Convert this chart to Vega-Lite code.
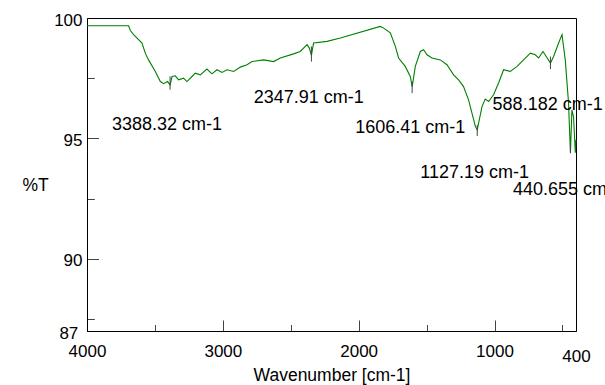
{
  "$schema": "https://vega.github.io/schema/vega-lite/v6.json",
  "width": 489,
  "height": 313,
  "autosize": {"type": "none"},
  "padding": {"left": 87, "top": 18, "right": 29, "bottom": 54},
  "background": "white",
  "config": {
    "view": {"stroke": "black", "strokeWidth": 1},
    "font": "Liberation Sans"
  },
  "encoding": {
    "x": {
      "field": "wn", "type": "quantitative",
      "scale": {"domain": [400, 4000], "reverse": true, "nice": false, "zero": false},
      "axis": {
        "title": "Wavenumber [cm-1]",
        "values": [4000, 3500, 3000, 2500, 2000, 1500, 1000, 500, 400],
        "format": "d",
        "labelExpr": "(datum.value % 1000 === 0 || datum.value === 400) ? datum.label : ''",
        "tickSize": {"condition": {"test": "datum.value % 1000 === 0", "value": -11}, "value": -6.5},
        "tickOpacity": {"condition": {"test": "datum.value === 4000 || datum.value === 400", "value": 0}, "value": 1},
        "tickColor": "#444",
        "grid": false,
        "domainColor": "black",
        "labelFont": "Liberation Sans", "labelFontSize": 17, "labelColor": "black",
        "labelPadding": 23.5, "labelFlush": false,
        "titleFont": "Liberation Sans", "titleFontSize": 17.5, "titleFontWeight": "normal", "titleColor": "black",
        "titleY": 44, "titleBaseline": "middle"
      }
    },
    "y": {
      "field": "T", "type": "quantitative",
      "scale": {"domain": [87, 100], "nice": false, "zero": false},
      "axis": {
        "title": "%T",
        "values": [100, 97.5, 95, 92.5, 90, 87.5, 87],
        "labelExpr": "(datum.value % 5 === 0 || datum.value === 87) ? datum.label : ''",
        "tickSize": {"condition": {"test": "datum.value % 5 === 0", "value": -11.5}, "value": -7.3},
        "tickOpacity": {"condition": {"test": "datum.value === 100 || datum.value === 87", "value": 0}, "value": 1},
        "tickColor": "#444",
        "grid": false,
        "domainColor": "black",
        "labelFont": "Liberation Sans", "labelFontSize": 17, "labelColor": "black",
        "labelPadding": 16.5, "labelOffset": 2, "labelFlush": false,
        "titleFont": "Liberation Sans", "titleFontSize": 17.5, "titleFontWeight": "normal", "titleColor": "black",
        "titleAngle": 0, "titleAlign": "center", "titleBaseline": "middle",
        "titleX": -52, "titleY": 167
      }
    }
  },
  "layer": [
    {
      "data": {"values": [
        {"wn": 4000, "T": 99.68}, {"wn": 3694, "T": 99.68}, {"wn": 3681, "T": 99.48}, {"wn": 3657, "T": 99.31},
        {"wn": 3595, "T": 98.96}, {"wn": 3571, "T": 98.54}, {"wn": 3547, "T": 98.26}, {"wn": 3497, "T": 97.78},
        {"wn": 3460, "T": 97.36}, {"wn": 3436, "T": 97.27}, {"wn": 3407, "T": 97.36}, {"wn": 3388, "T": 97.22},
        {"wn": 3374, "T": 97.57}, {"wn": 3350, "T": 97.6}, {"wn": 3326, "T": 97.43}, {"wn": 3289, "T": 97.5},
        {"wn": 3264, "T": 97.36}, {"wn": 3227, "T": 97.57}, {"wn": 3203, "T": 97.71}, {"wn": 3166, "T": 97.64},
        {"wn": 3117, "T": 97.88}, {"wn": 3080, "T": 97.68}, {"wn": 3043, "T": 97.85}, {"wn": 3006, "T": 97.74},
        {"wn": 2969, "T": 97.85}, {"wn": 2921, "T": 97.78}, {"wn": 2871, "T": 97.96}, {"wn": 2822, "T": 98.06},
        {"wn": 2785, "T": 98.19}, {"wn": 2700, "T": 98.26}, {"wn": 2626, "T": 98.19}, {"wn": 2577, "T": 98.34},
        {"wn": 2479, "T": 98.51}, {"wn": 2430, "T": 98.61}, {"wn": 2380, "T": 98.89}, {"wn": 2363, "T": 98.75},
        {"wn": 2348, "T": 98.45}, {"wn": 2332, "T": 98.96}, {"wn": 2233, "T": 99.03}, {"wn": 2135, "T": 99.17},
        {"wn": 1841, "T": 99.65}, {"wn": 1816, "T": 99.58}, {"wn": 1767, "T": 99.38}, {"wn": 1730, "T": 98.82},
        {"wn": 1706, "T": 98.34}, {"wn": 1657, "T": 97.99}, {"wn": 1620, "T": 97.57}, {"wn": 1606, "T": 97.15},
        {"wn": 1583, "T": 97.99}, {"wn": 1546, "T": 98.61}, {"wn": 1522, "T": 98.68}, {"wn": 1497, "T": 98.47},
        {"wn": 1460, "T": 98.34}, {"wn": 1399, "T": 98.26}, {"wn": 1350, "T": 98.06}, {"wn": 1301, "T": 97.64},
        {"wn": 1264, "T": 97.43}, {"wn": 1228, "T": 97.15}, {"wn": 1191, "T": 96.6}, {"wn": 1166, "T": 96.05},
        {"wn": 1141, "T": 95.5}, {"wn": 1127, "T": 95.35}, {"wn": 1117, "T": 95.63}, {"wn": 1092, "T": 96.32},
        {"wn": 1068, "T": 96.63}, {"wn": 1043, "T": 96.53}, {"wn": 1007, "T": 96.81}, {"wn": 970, "T": 97.3},
        {"wn": 933, "T": 97.85}, {"wn": 884, "T": 97.78}, {"wn": 834, "T": 97.99}, {"wn": 736, "T": 98.54},
        {"wn": 700, "T": 98.47}, {"wn": 675, "T": 98.34}, {"wn": 643, "T": 98.61}, {"wn": 619, "T": 98.4},
        {"wn": 588, "T": 98.13}, {"wn": 565, "T": 98.4}, {"wn": 528, "T": 98.96}, {"wn": 503, "T": 99.31},
        {"wn": 479, "T": 98.26}, {"wn": 455, "T": 96.48}, {"wn": 441, "T": 94.4}, {"wn": 430, "T": 96.18},
        {"wn": 418, "T": 95.89}, {"wn": 405, "T": 94.4}, {"wn": 400, "T": 94.94}
      ]},
      "mark": {"type": "line", "color": "#008000", "strokeWidth": 1.1}
    },
    {
      "data": {"values": [
        {"wn": 3388.32, "T": 97.57, "T2": 97.02},
        {"wn": 2347.91, "T": 98.82, "T2": 98.19},
        {"wn": 1606.41, "T": 97.36, "T2": 96.88},
        {"wn": 1127.19, "T": 95.56, "T2": 95.1},
        {"wn": 588.182, "T": 98.4, "T2": 97.88},
        {"wn": 440.655, "T": 94.8, "T2": 94.38}
      ]},
      "mark": {"type": "rule", "color": "#444", "strokeWidth": 1},
      "encoding": {"y2": {"field": "T2"}}
    },
    {
      "data": {"values": [
        {"wn": 3816, "T": 95.56, "label": "3388.32 cm-1"},
        {"wn": 2773, "T": 96.67, "label": "2347.91 cm-1"},
        {"wn": 2025, "T": 95.42, "label": "1606.41 cm-1"},
        {"wn": 1014, "T": 96.39, "label": "588.182 cm-1"},
        {"wn": 1546, "T": 93.58, "label": "1127.19 cm-1"},
        {"wn": 864, "T": 92.86, "label": "440.655 cm-1"}
      ]},
      "mark": {"type": "text", "align": "left", "baseline": "middle", "font": "Liberation Sans", "fontSize": 18, "color": "black"},
      "encoding": {"text": {"field": "label"}}
    }
  ]
}
